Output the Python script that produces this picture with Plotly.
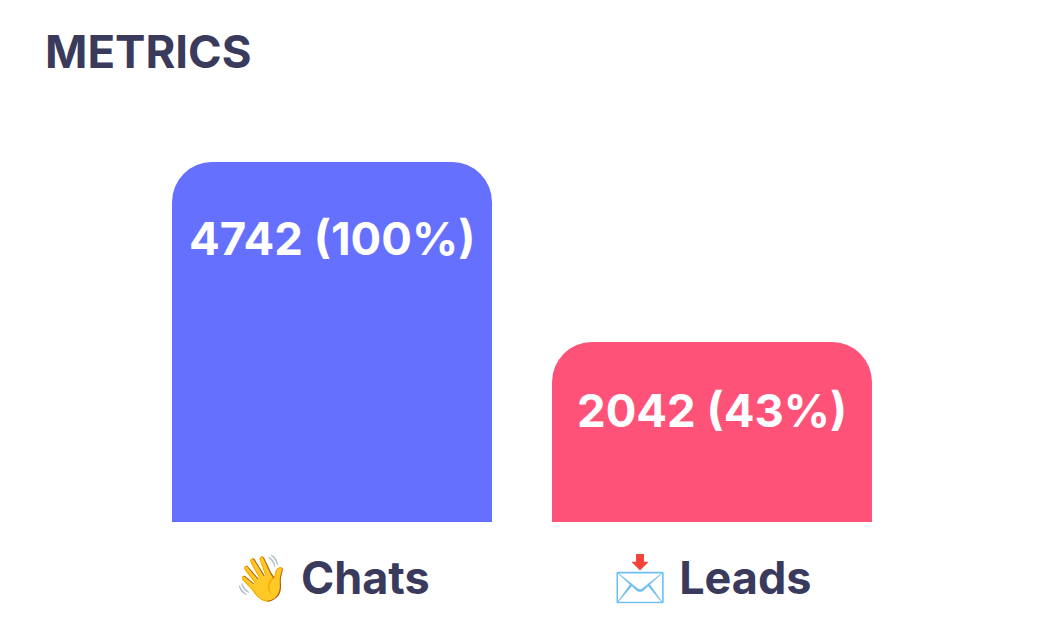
import plotly.graph_objects as go

categories = ["👋 Chats", "📩 Leads"]
values = [4742, 2042]
percents = [100, 43]
# the bars in the picture are not to scale with the counts, this is the drawn level
bar_levels = [100, 50]
colors = ["#6670FF", "#FF5278"]
label_shift = [-76, -68]

INK = "#3A3A5C"
FONT = "Inter, Lato, sans-serif"

fig = go.Figure()
fig.add_trace(go.Bar(x=categories, y=bar_levels, marker=dict(color=colors, line=dict(width=0)), hoverinfo="skip"))

# value labels sit at a fixed offset under the top of each bar
for cat, level, val, pct, shift in zip(categories, bar_levels, values, percents, label_shift):
    fig.add_annotation(x=cat, y=level, yshift=shift, text=f"<b>{val} ({pct}%)</b>", showarrow=False,
                       font=dict(family=FONT, size=45.5, color="white"))

fig.add_annotation(xref="paper", yref="paper", x=-0.13, y=1.09, xanchor="left", yanchor="middle",
                   text="<b>METRICS</b>", showarrow=False, font=dict(family=FONT, size=45.5, color=INK))

# page body adds 8px around the figure, so the size and margins allow for it
fig.update_layout(
    width=1036, height=632,
    margin=dict(l=134, r=142, t=82, b=118),
    paper_bgcolor="white", plot_bgcolor="white",
    bargap=0.158, barcornerradius=40,
    showlegend=False,
    font=dict(family=FONT),
)
fig.update_xaxes(tickfont=dict(family=FONT, size=45, color=INK, weight="bold"), showgrid=False, showline=False, ticks="", ticklabelstandoff=26)
fig.update_yaxes(range=[0, 120], visible=False)

fig.write_html("out.html", config=dict(displayModeBar=False))
